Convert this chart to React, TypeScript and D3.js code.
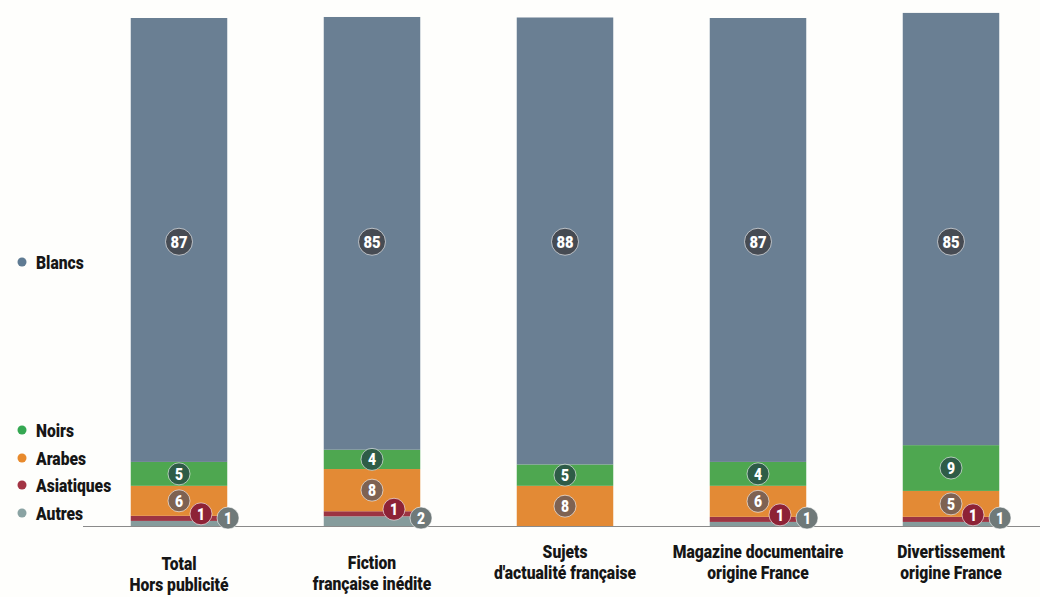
import React from "react";
import * as d3 from "d3";

const categories = [
  ["Total", "Hors publicité"],
  ["Fiction", "française inédite"],
  ["Sujets", "d'actualité française"],
  ["Magazine documentaire", "origine France"],
  ["Divertissement", "origine France"],
];
const seriesNames = ["Autres", "Asiatiques", "Arabes", "Noirs", "Blancs"];

// segment heights (share, %)
const autres = [1.1, 2.0, 0, 0.9, 0.9];
const asiatiques = [1.0, 1.0, 0, 1.0, 1.0];
const arabes = [5.9, 8.3, 8.0, 6.1, 5.1];
const noirs = [4.7, 3.8, 4.2, 4.7, 9.0];
const blancs = [87.3, 85.1, 87.9, 87.3, 85.0];

// printed (rounded) labels
const autresLabel = [1, 2, 0, 1, 1];
const asiatiquesLabel = [1, 1, 0, 1, 1];
const arabesLabel = [6, 8, 8, 6, 5];
const noirsLabel = [5, 4, 5, 4, 9];
const blancsLabel = [87, 85, 88, 87, 85];

const labels: Record<string, number[]> = {
  Autres: autresLabel,
  Asiatiques: asiatiquesLabel,
  Arabes: arabesLabel,
  Noirs: noirsLabel,
  Blancs: blancsLabel,
};

const barColors: Record<string, string> = {
  Autres: "#869c9c",
  Asiatiques: "#9c3442",
  Arabes: "#e38a35",
  Noirs: "#4ea750",
  Blancs: "#6a7f93",
};
const dotColors: Record<string, string> = {
  Autres: "#8aa3a3",
  Asiatiques: "#a33444",
  Arabes: "#e88a2c",
  Noirs: "#35a852",
  Blancs: "#5f7b93",
};
const badgeColors: Record<string, string> = {
  Autres: "#6f7979",
  Asiatiques: "#8d2236",
  Arabes: "#7e6252",
  Noirs: "#2e5c47",
  Blancs: "#464b53",
};

const W = 1040;
const H = 597;
const FONT = "Roboto, 'Liberation Sans', sans-serif";
const SX = 0.87;

function CondText(props: {
  x: number;
  y: number;
  size: number;
  fill: string;
  anchor?: string;
  children: any;
}) {
  return (
    <text
      transform={`translate(${props.x},${props.y}) scale(${SX},1)`}
      textAnchor={props.anchor || "start"}
      fontFamily={FONT}
      fontWeight={900}
      fontSize={props.size}
      fill={props.fill}
    >
      {props.children}
    </text>
  );
}

export default function App() {
  const rows = categories.map((c, i) => ({
    i,
    Autres: autres[i],
    Asiatiques: asiatiques[i],
    Arabes: arabes[i],
    Noirs: noirs[i],
    Blancs: blancs[i],
  }));
  const stack = d3.stack<any>().keys(seriesNames)(rows);
  const x = d3
    .scaleBand<number>()
    .domain(d3.range(categories.length))
    .range([82.5, 1047.5])
    .paddingInner(0.5)
    .paddingOuter(0.25);
  const y = d3.scaleLinear().domain([0, 100]).range([526.5, 18]);

  const legend = [
    { name: "Blancs", y: 262 },
    { name: "Noirs", y: 430 },
    { name: "Arabes", y: 458 },
    { name: "Asiatiques", y: 485 },
    { name: "Autres", y: 513 },
  ];
  // baseline of first line of each category label
  const catLabelY = [570, 569, 558, 558, 558];

  return (
    <div style={{ position: "absolute", left: 0, top: 0 }}>
      <svg width={W} height={H} style={{ display: "block", background: "#fefefc" }}>
        {stack.map((s) => (
          <g key={s.key}>
            {s.map((d, i) =>
              d[1] - d[0] > 0 ? (
                <rect
                  key={i}
                  x={x(i)}
                  width={x.bandwidth()}
                  y={y(d[1])}
                  height={y(d[0]) - y(d[1])}
                  fill={barColors[s.key]}
                />
              ) : null
            )}
          </g>
        ))}
        <line x1={83} x2={1040} y1={y(0)} y2={y(0)} stroke="#8a8a8a" strokeWidth={1.2} />
        {stack.map((s) => (
          <g key={"lab" + s.key}>
            {s.map((d, i) => {
              const v = labels[s.key][i];
              if (v <= 0) return null;
              const cx0 = (x(i) as number) + x.bandwidth() / 2;
              let cx = cx0;
              let cy = (y(d[0]) + y(d[1])) / 2;
              let r = 11;
              let fs = 16;
              if (s.key === "Asiatiques") {
                cx = cx0 + 22;
                cy = y(d[1]) - 2;
              } else if (s.key === "Autres") {
                cx = cx0 + 49;
                cy = y(0) - 8.5;
              } else if (s.key === "Blancs") {
                cy = y(56);
                r = 13.5;
                fs = 17;
              }
              return (
                <g key={i}>
                  <circle
                    cx={cx}
                    cy={cy}
                    r={r}
                    fill={badgeColors[s.key]}
                    stroke="#ffffff"
                    strokeWidth={1}
                    strokeOpacity={0.6}
                  />
                  <CondText x={cx} y={cy + fs * 0.36} size={fs} fill="#ffffff" anchor="middle">
                    {v}
                  </CondText>
                </g>
              );
            })}
          </g>
        ))}
        {legend.map((l) => (
          <g key={l.name}>
            <circle cx={22} cy={l.y} r={4.5} fill={dotColors[l.name]} />
            <CondText x={36} y={l.y + 6.5} size={18} fill="#161616">
              {l.name}
            </CondText>
          </g>
        ))}
        {categories.map((c, i) => {
          const cx = (x(i) as number) + x.bandwidth() / 2;
          return (
            <g key={i}>
              <CondText x={cx} y={catLabelY[i]} size={18} fill="#161616" anchor="middle">
                {c[0]}
              </CondText>
              <CondText x={cx} y={catLabelY[i] + 21} size={18} fill="#161616" anchor="middle">
                {c[1]}
              </CondText>
            </g>
          );
        })}
      </svg>
    </div>
  );
}
